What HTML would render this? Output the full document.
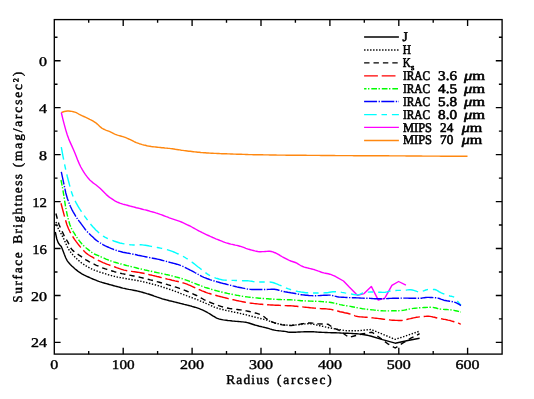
<!DOCTYPE html>
<html><head><meta charset="utf-8"><title>Surface Brightness Profile</title>
<style>
html,body{margin:0;padding:0;background:#fff;}
body{width:534px;height:399px;overflow:hidden;position:relative;font-family:"Liberation Serif",serif;}
</style></head><body>
<svg width="534" height="399" viewBox="0 0 534 399" style="position:absolute;left:0;top:0;will-change:transform">
<g fill="none" stroke-linejoin="round" stroke-linecap="butt">
<path d="M61.3,112.6 L62.8,112.0 L64.3,111.5 L65.8,111.2 L67.3,111.0 L68.8,111.0 L70.3,111.2 L71.8,111.4 L73.3,111.7 L74.8,112.1 L76.3,112.7 L77.8,113.5 L79.3,114.4 L80.8,115.1 L82.3,115.8 L83.8,116.5 L85.3,117.2 L86.8,117.9 L88.3,118.6 L89.8,119.4 L91.3,120.1 L92.8,120.9 L94.3,121.8 L95.8,122.8 L97.3,124.1 L98.8,125.5 L100.3,126.9 L101.8,128.1 L103.3,129.0 L104.8,129.7 L106.3,130.3 L107.8,130.8 L109.3,131.4 L110.8,132.1 L112.3,132.8 L113.8,133.6 L115.3,134.3 L116.8,134.9 L118.3,135.4 L119.8,135.8 L121.3,136.2 L122.8,136.6 L124.3,137.1 L125.8,137.7 L127.3,138.3 L128.8,139.0 L130.3,139.6 L131.8,140.4 L133.3,141.2 L134.8,142.0 L136.3,142.7 L137.8,143.2 L139.3,143.7 L140.8,144.1 L142.3,144.6 L143.8,145.0 L145.3,145.3 L146.8,145.7 L148.3,146.0 L149.8,146.2 L151.3,146.5 L152.8,146.7 L154.3,146.9 L155.8,147.0 L157.3,147.2 L158.8,147.4 L160.3,147.5 L161.8,147.7 L163.3,147.8 L164.8,148.0 L166.3,148.1 L167.8,148.3 L169.3,148.4 L170.8,148.6 L172.3,148.8 L173.8,149.0 L175.3,149.3 L176.8,149.5 L178.3,149.7 L179.8,149.9 L181.3,150.2 L182.8,150.4 L184.3,150.6 L185.8,150.8 L187.3,151.0 L188.8,151.2 L190.3,151.3 L191.8,151.5 L193.3,151.7 L194.8,151.9 L196.3,152.0 L197.8,152.2 L199.3,152.3 L200.8,152.5 L202.3,152.6 L203.8,152.7 L205.3,152.8 L206.8,153.0 L208.3,153.0 L209.8,153.1 L211.3,153.2 L212.8,153.3 L214.3,153.4 L215.8,153.4 L217.3,153.5 L218.8,153.5 L220.3,153.6 L221.8,153.7 L223.3,153.7 L224.8,153.8 L226.3,153.8 L227.8,153.9 L229.3,153.9 L230.8,154.0 L232.3,154.0 L233.8,154.1 L235.3,154.1 L236.8,154.2 L238.3,154.2 L239.8,154.3 L241.3,154.3 L242.8,154.4 L244.3,154.4 L245.8,154.5 L247.3,154.5 L248.8,154.6 L250.3,154.6 L251.8,154.6 L253.3,154.7 L254.8,154.7 L256.3,154.7 L257.8,154.8 L259.3,154.8 L260.8,154.8 L262.3,154.8 L263.8,154.9 L265.3,154.9 L266.8,154.9 L268.3,154.9 L269.8,155.0 L271.3,155.0 L272.8,155.0 L274.3,155.0 L275.8,155.0 L277.3,155.1 L278.8,155.1 L280.3,155.1 L281.8,155.1 L283.3,155.1 L284.8,155.1 L286.3,155.2 L287.8,155.2 L289.3,155.2 L290.8,155.2 L292.3,155.2 L293.8,155.2 L295.3,155.3 L296.8,155.3 L298.3,155.3 L299.8,155.3 L301.3,155.3 L302.8,155.3 L304.3,155.3 L305.8,155.3 L307.3,155.4 L308.8,155.4 L310.3,155.4 L311.8,155.4 L313.3,155.4 L314.8,155.4 L316.3,155.4 L317.8,155.4 L319.3,155.4 L320.8,155.5 L322.3,155.5 L323.8,155.5 L325.3,155.5 L326.8,155.5 L328.3,155.5 L329.8,155.5 L331.3,155.5 L332.8,155.5 L334.3,155.5 L335.8,155.6 L337.3,155.6 L338.8,155.6 L340.3,155.6 L341.8,155.6 L343.3,155.6 L344.8,155.6 L346.3,155.6 L347.8,155.6 L349.3,155.6 L350.8,155.6 L352.3,155.6 L353.8,155.7 L355.3,155.7 L356.8,155.7 L358.3,155.7 L359.8,155.7 L361.3,155.7 L362.8,155.7 L364.3,155.7 L365.8,155.7 L367.3,155.7 L368.8,155.7 L370.3,155.7 L371.8,155.8 L373.3,155.8 L374.8,155.8 L376.3,155.8 L377.8,155.8 L379.3,155.8 L380.8,155.8 L382.3,155.8 L383.8,155.8 L385.3,155.8 L386.8,155.8 L388.3,155.8 L389.8,155.9 L391.3,155.9 L392.8,155.9 L394.3,155.9 L395.8,155.9 L397.3,155.9 L398.8,155.9 L400.3,155.9 L401.8,155.9 L403.3,155.9 L404.8,155.9 L406.3,156.0 L407.8,156.0 L409.3,156.0 L410.8,156.0 L412.3,156.0 L413.8,156.0 L415.3,156.0 L416.8,156.0 L418.3,156.0 L419.8,156.0 L421.3,156.0 L422.8,156.1 L424.3,156.1 L425.8,156.1 L427.3,156.1 L428.8,156.1 L430.3,156.1 L431.8,156.1 L433.3,156.1 L434.8,156.1 L436.3,156.1 L437.8,156.1 L439.3,156.1 L440.8,156.2 L442.3,156.2 L443.8,156.2 L445.3,156.2 L446.8,156.2 L448.3,156.2 L449.8,156.2 L451.3,156.2 L452.8,156.2 L454.3,156.2 L455.8,156.2 L457.3,156.2 L458.8,156.3 L460.3,156.3 L461.8,156.3 L463.3,156.3 L464.8,156.3 L466.3,156.3 L467.5,156.3" stroke="#ff8810" stroke-width="1.4"/>
<path d="M61.3,112.5 L62.8,118.8 L64.3,124.6 L65.8,130.1 L67.3,135.0 L68.8,139.1 L70.3,142.6 L71.8,145.9 L73.3,149.2 L74.8,152.8 L76.3,156.6 L77.8,160.4 L79.3,163.9 L80.8,167.0 L82.3,169.7 L83.8,172.1 L85.3,174.4 L86.8,176.4 L88.3,178.3 L89.8,179.9 L91.3,181.3 L92.8,182.6 L94.3,183.7 L95.8,184.8 L97.3,186.0 L98.8,187.2 L100.3,188.5 L101.8,189.9 L103.3,191.5 L104.8,193.1 L106.3,194.6 L107.8,195.9 L109.3,197.1 L110.8,198.2 L112.3,199.2 L113.8,200.2 L115.3,201.1 L116.8,201.9 L118.3,202.5 L119.8,203.1 L121.3,203.6 L122.8,204.1 L124.3,204.5 L125.8,204.9 L127.3,205.3 L128.8,205.7 L130.3,206.1 L131.8,206.5 L133.3,206.9 L134.8,207.3 L136.3,207.7 L137.8,208.0 L139.3,208.4 L140.8,208.8 L142.3,209.2 L143.8,209.6 L145.3,209.9 L146.8,210.3 L148.3,210.7 L149.8,211.2 L151.3,211.6 L152.8,212.0 L154.3,212.4 L155.8,212.9 L157.3,213.3 L158.8,213.8 L160.3,214.4 L161.8,214.9 L163.3,215.5 L164.8,216.1 L166.3,216.7 L167.8,217.2 L169.3,217.8 L170.8,218.3 L172.3,218.8 L173.8,219.3 L175.3,219.8 L176.8,220.3 L178.3,220.8 L179.8,221.4 L181.3,222.0 L182.8,222.7 L184.3,223.4 L185.8,224.1 L187.3,224.8 L188.8,225.5 L190.3,226.2 L191.8,227.0 L193.3,227.8 L194.8,228.7 L196.3,229.5 L197.8,230.3 L199.3,231.2 L200.8,231.9 L202.3,232.7 L203.8,233.4 L205.3,234.1 L206.8,234.8 L208.3,235.5 L209.8,236.2 L211.3,236.8 L212.8,237.5 L214.3,238.1 L215.8,238.8 L217.3,239.4 L218.8,240.0 L220.3,240.6 L221.8,241.2 L223.3,241.8 L224.8,242.4 L226.3,242.9 L227.8,243.3 L229.3,243.7 L230.8,244.1 L232.3,244.4 L233.8,244.7 L235.3,245.1 L236.8,245.4 L238.3,245.8 L239.8,246.2 L241.3,246.7 L242.8,247.2 L244.3,247.7 L245.8,248.3 L247.3,248.8 L248.8,249.3 L250.3,249.7 L251.8,250.1 L253.3,250.5 L254.8,250.9 L256.3,251.2 L257.8,251.5 L259.3,251.7 L260.8,251.7 L262.3,251.6 L263.8,251.6 L265.3,251.5 L266.8,251.4 L268.3,251.3 L269.8,251.3 L271.3,251.5 L272.8,251.9 L274.3,252.5 L275.8,253.0 L277.3,253.8 L278.8,254.6 L280.3,255.6 L281.8,256.5 L283.3,257.3 L284.8,258.1 L286.3,258.9 L287.8,259.7 L289.3,260.4 L290.8,261.0 L292.3,261.5 L293.8,262.0 L295.3,262.5 L296.8,263.2 L298.3,264.1 L299.8,265.0 L301.3,265.8 L302.8,266.5 L304.3,267.1 L305.8,267.5 L307.3,267.9 L308.8,268.3 L310.3,268.6 L311.8,269.0 L313.3,269.4 L314.8,269.8 L316.3,270.3 L317.8,270.9 L319.3,271.4 L320.8,272.0 L322.3,272.5 L323.8,272.9 L325.3,273.2 L326.8,273.5 L328.3,273.8 L329.8,274.2 L331.3,274.7 L332.8,275.3 L334.3,275.9 L335.8,276.7 L337.0,277.3 L343.5,281.0 L349.0,286.8 L357.6,295.4 L364.1,293.6 L371.3,286.4 L378.3,300.1 L384.8,298.2 L391.9,285.3 L398.6,281.5 L405.9,285.2" stroke="#ff00ff" stroke-width="1.4"/>
<path d="M61.3,147.2 L62.8,155.3 L64.3,162.9 L65.8,170.1 L67.3,176.5 L68.8,182.3 L70.3,187.9 L71.8,193.1 L73.3,197.0 L74.8,200.3 L76.3,203.2 L77.8,205.8 L79.3,208.4 L80.8,210.7 L82.3,212.9 L83.8,215.0 L85.3,217.1 L86.8,219.1 L88.3,221.1 L89.8,223.1 L91.3,225.0 L92.8,226.7 L94.3,228.3 L95.8,229.9 L97.3,231.3 L98.8,232.7 L100.3,234.0 L101.8,235.2 L103.3,236.2 L104.8,237.1 L106.3,237.8 L107.8,238.6 L109.3,239.2 L110.8,239.8 L112.3,240.4 L113.8,241.0 L115.3,241.5 L116.8,242.0 L118.3,242.5 L119.8,243.0 L121.3,243.3 L122.8,243.6 L124.3,243.9 L125.8,244.2 L127.3,244.4 L128.8,244.6 L130.3,244.8 L131.8,244.9 L133.3,245.0 L134.8,245.0 L136.3,244.9 L137.8,244.9 L139.3,244.8 L140.8,244.8 L142.3,244.9 L143.8,245.1 L145.3,245.3 L146.8,245.5 L148.3,245.8 L149.8,246.1 L151.3,246.4 L152.8,246.7 L154.3,246.9 L155.8,247.2 L157.3,247.5 L158.8,247.8 L160.3,248.1 L161.8,248.4 L163.3,248.8 L164.8,249.1 L166.3,249.5 L167.8,249.9 L169.3,250.4 L170.8,250.9 L172.3,251.4 L173.8,252.0 L175.3,252.6 L176.8,253.3 L178.3,254.0 L179.8,254.7 L181.3,255.4 L182.8,256.2 L184.3,257.0 L185.8,258.0 L187.3,258.9 L188.8,259.9 L190.3,261.0 L191.8,262.0 L193.3,263.1 L194.8,264.3 L196.3,265.5 L197.8,266.7 L199.3,267.8 L200.8,269.0 L202.3,270.2 L203.8,271.3 L205.3,272.5 L206.8,273.6 L208.3,274.6 L209.8,275.5 L211.3,276.3 L212.8,277.0 L214.3,277.6 L215.8,278.1 L217.3,278.5 L218.8,279.0 L220.3,279.4 L221.8,279.8 L223.3,280.0 L224.8,280.1 L226.3,280.2 L227.8,280.3 L229.3,280.3 L230.8,280.4 L232.3,280.4 L233.8,280.4 L235.3,280.5 L236.8,280.5 L238.3,280.6 L239.8,280.6 L241.3,280.6 L242.8,280.7 L244.3,280.7 L245.8,280.8 L247.3,280.8 L248.8,280.9 L250.3,281.1 L251.8,281.3 L253.3,281.6 L254.8,281.8 L256.3,281.9 L257.8,282.0 L259.3,282.0 L260.8,282.0 L262.3,282.0 L263.8,282.0 L265.3,282.0 L266.8,282.0 L268.3,282.0 L269.8,282.0 L271.3,282.2 L272.8,282.5 L274.3,283.0 L275.8,283.6 L277.3,284.2 L278.8,284.8 L280.3,285.3 L281.8,286.0 L283.3,286.7 L284.8,287.5 L286.3,288.1 L287.8,288.7 L289.3,289.2 L290.8,289.7 L292.3,290.1 L293.8,290.6 L295.3,291.0 L296.8,291.3 L298.3,291.6 L299.8,291.8 L301.3,292.1 L302.8,292.3 L304.3,292.5 L305.8,292.7 L307.3,292.8 L308.8,292.9 L310.3,293.0 L311.8,293.0 L313.3,293.0 L314.8,293.0 L316.3,293.0 L317.8,293.0 L319.3,293.0 L320.8,292.9 L322.3,292.9 L323.8,292.9 L325.3,292.8 L326.8,292.7 L328.3,292.5 L329.8,292.2 L331.3,292.0 L332.8,291.8 L334.3,291.7 L335.8,291.7 L337.3,291.8 L338.8,291.9 L340.3,292.1 L341.8,292.4 L343.3,292.6 L344.8,292.9 L346.3,293.1 L347.8,293.3 L349.3,293.6 L350.8,293.9 L352.3,294.2 L353.8,294.5 L355.3,294.7 L356.8,294.9 L358.3,294.8 L359.8,294.4 L361.3,293.6 L362.8,292.9 L364.3,292.4 L365.8,292.3 L367.3,292.2 L368.8,292.1 L370.3,292.0 L371.8,292.0 L373.3,292.0 L374.8,292.0 L376.3,292.1 L377.8,292.2 L379.3,292.3 L380.8,292.3 L382.3,292.4 L383.8,292.4 L385.3,292.2 L386.8,291.9 L388.3,291.5 L389.8,291.1 L391.3,290.7 L392.8,290.6 L394.3,290.5 L395.8,290.5 L397.3,290.4 L398.8,290.4 L400.3,290.4 L401.8,290.3 L403.3,290.3 L404.8,290.2 L406.3,290.1 L407.8,289.9 L409.3,289.8 L410.8,289.8 L412.3,290.0 L413.8,290.4 L415.3,290.9 L416.8,291.4 L418.3,291.8 L419.8,291.9 L421.3,291.7 L422.8,291.2 L424.3,290.6 L425.8,290.0 L427.3,289.6 L428.8,289.5 L430.3,289.5 L431.8,289.5 L433.3,289.5 L434.8,289.5 L436.3,290.0 L437.8,290.9 L439.3,291.9 L440.8,292.7 L442.3,293.3 L443.8,293.9 L445.3,294.5 L446.8,295.0 L448.3,295.5 L449.8,296.0 L451.3,296.3 L452.8,296.6 L454.3,297.2 L455.8,299.0 L457.3,301.0 L458.8,302.8 L460.3,304.6 L460.9,305.3" stroke="#00ffff" stroke-width="1.4" stroke-dasharray="12.6 4.8 5.5 4.9"/>
<path d="M61.3,171.8 L62.8,178.9 L64.3,185.9 L65.8,193.0 L67.3,198.2 L68.8,202.4 L70.3,206.2 L71.8,209.3 L73.3,212.1 L74.8,214.7 L76.3,217.2 L77.8,219.4 L79.3,221.4 L80.8,223.3 L82.3,225.3 L83.8,227.4 L85.3,229.5 L86.8,231.3 L88.3,232.8 L89.8,234.2 L91.3,235.7 L92.8,237.1 L94.3,238.6 L95.8,239.9 L97.3,241.0 L98.8,242.1 L100.3,243.0 L101.8,243.9 L103.3,244.8 L104.8,245.6 L106.3,246.3 L107.8,247.0 L109.3,247.7 L110.8,248.3 L112.3,248.9 L113.8,249.5 L115.3,250.0 L116.8,250.5 L118.3,251.0 L119.8,251.4 L121.3,251.8 L122.8,252.2 L124.3,252.5 L125.8,252.8 L127.3,253.1 L128.8,253.3 L130.3,253.6 L131.8,253.9 L133.3,254.2 L134.8,254.5 L136.3,254.8 L137.8,255.2 L139.3,255.5 L140.8,255.8 L142.3,256.1 L143.8,256.4 L145.3,256.7 L146.8,257.0 L148.3,257.3 L149.8,257.6 L151.3,257.9 L152.8,258.2 L154.3,258.5 L155.8,258.8 L157.3,259.1 L158.8,259.4 L160.3,259.8 L161.8,260.2 L163.3,260.6 L164.8,261.0 L166.3,261.4 L167.8,261.8 L169.3,262.2 L170.8,262.6 L172.3,263.0 L173.8,263.4 L175.3,263.8 L176.8,264.2 L178.3,264.7 L179.8,265.2 L181.3,265.8 L182.8,266.4 L184.3,267.1 L185.8,267.8 L187.3,268.6 L188.8,269.3 L190.3,270.1 L191.8,270.8 L193.3,271.6 L194.8,272.5 L196.3,273.3 L197.8,274.2 L199.3,275.0 L200.8,275.8 L202.3,276.6 L203.8,277.3 L205.3,277.9 L206.8,278.5 L208.3,279.0 L209.8,279.6 L211.3,280.1 L212.8,280.6 L214.3,281.0 L215.8,281.5 L217.3,281.9 L218.8,282.3 L220.3,282.7 L221.8,283.1 L223.3,283.5 L224.8,283.8 L226.3,284.2 L227.8,284.6 L229.3,285.0 L230.8,285.4 L232.3,285.8 L233.8,286.1 L235.3,286.5 L236.8,286.9 L238.3,287.2 L239.8,287.5 L241.3,287.8 L242.8,288.1 L244.3,288.4 L245.8,288.7 L247.3,289.0 L248.8,289.2 L250.3,289.4 L251.8,289.5 L253.3,289.5 L254.8,289.5 L256.3,289.5 L257.8,289.5 L259.3,289.5 L260.8,289.5 L262.3,289.5 L263.8,289.5 L265.3,289.5 L266.8,289.5 L268.3,289.4 L269.8,289.4 L271.3,289.3 L272.8,289.3 L274.3,289.3 L275.8,289.5 L277.3,289.8 L278.8,290.2 L280.3,290.6 L281.8,291.1 L283.3,291.4 L284.8,291.8 L286.3,292.0 L287.8,292.3 L289.3,292.5 L290.8,292.8 L292.3,293.0 L293.8,293.2 L295.3,293.5 L296.8,293.8 L298.3,294.1 L299.8,294.5 L301.3,294.7 L302.8,294.9 L304.3,295.0 L305.8,295.2 L307.3,295.3 L308.8,295.5 L310.3,295.6 L311.8,295.6 L313.3,295.7 L314.8,295.7 L316.3,295.7 L317.8,295.6 L319.3,295.6 L320.8,295.5 L322.3,295.4 L323.8,295.3 L325.3,295.2 L326.8,295.2 L328.3,295.1 L329.8,295.1 L331.3,295.3 L332.8,295.6 L334.3,296.0 L335.8,296.4 L337.3,296.8 L338.8,297.0 L340.3,297.1 L341.8,297.2 L343.3,297.3 L344.8,297.4 L346.3,297.5 L347.8,297.5 L349.3,297.6 L350.8,297.6 L352.3,297.7 L353.8,297.7 L355.3,297.8 L356.8,297.9 L358.3,297.9 L359.8,298.0 L361.3,298.1 L362.8,298.1 L364.3,298.2 L365.8,298.2 L367.3,298.3 L368.8,298.3 L370.3,298.4 L371.8,298.5 L373.3,298.6 L374.8,298.7 L376.3,298.7 L377.8,298.8 L379.3,298.8 L380.8,298.8 L382.3,298.7 L383.8,298.7 L385.3,298.6 L386.8,298.6 L388.3,298.5 L389.8,298.4 L391.3,298.4 L392.8,298.3 L394.3,298.3 L395.8,298.2 L397.3,298.2 L398.8,298.2 L400.3,298.1 L401.8,298.1 L403.3,298.1 L404.8,298.1 L406.3,298.1 L407.8,298.1 L409.3,298.2 L410.8,298.2 L412.3,298.2 L413.8,298.2 L415.3,298.3 L416.8,298.3 L418.3,298.3 L419.8,298.3 L421.3,298.2 L422.8,297.9 L424.3,297.7 L425.8,297.5 L427.3,297.4 L428.8,297.4 L430.3,297.5 L431.8,297.5 L433.3,297.6 L434.8,297.7 L436.3,297.8 L437.8,298.1 L439.3,298.5 L440.8,299.1 L442.3,299.6 L443.8,300.2 L445.3,300.5 L446.8,300.8 L448.3,301.0 L449.8,301.2 L451.3,301.4 L452.8,301.7 L454.3,302.1 L455.8,302.6 L457.3,303.3 L458.8,304.2 L460.3,305.2 L460.9,305.6" stroke="#0000ff" stroke-width="1.4" stroke-dasharray="13 1.5 1.3 1.4"/>
<path d="M61.0,180.0 L62.5,187.5 L64.0,196.7 L65.5,206.3 L67.0,213.8 L68.5,220.1 L70.0,225.0 L71.5,228.5 L73.0,231.3 L74.5,233.7 L76.0,236.1 L77.5,238.3 L79.0,240.4 L80.5,242.3 L82.0,244.0 L83.5,245.5 L85.0,246.9 L86.5,248.2 L88.0,249.4 L89.5,250.6 L91.0,251.8 L92.5,252.9 L94.0,253.8 L95.5,254.5 L97.0,255.1 L98.5,255.7 L100.0,256.4 L101.5,257.1 L103.0,257.7 L104.5,258.4 L106.0,259.1 L107.5,259.7 L109.0,260.3 L110.5,260.8 L112.0,261.3 L113.5,261.8 L115.0,262.3 L116.5,262.7 L118.0,263.2 L119.5,263.6 L121.0,264.0 L122.5,264.5 L124.0,264.8 L125.5,265.2 L127.0,265.6 L128.5,265.9 L130.0,266.3 L131.5,266.7 L133.0,267.1 L134.5,267.4 L136.0,267.8 L137.5,268.2 L139.0,268.6 L140.5,268.9 L142.0,269.3 L143.5,269.6 L145.0,270.0 L146.5,270.3 L148.0,270.6 L149.5,271.0 L151.0,271.3 L152.5,271.6 L154.0,272.0 L155.5,272.3 L157.0,272.6 L158.5,272.9 L160.0,273.2 L161.5,273.5 L163.0,273.8 L164.5,274.1 L166.0,274.5 L167.5,274.8 L169.0,275.1 L170.5,275.5 L172.0,275.9 L173.5,276.3 L175.0,276.7 L176.5,277.1 L178.0,277.5 L179.5,277.9 L181.0,278.4 L182.5,278.8 L184.0,279.3 L185.5,279.8 L187.0,280.3 L188.5,280.9 L190.0,281.5 L191.5,282.1 L193.0,282.7 L194.5,283.3 L196.0,283.9 L197.5,284.5 L199.0,285.0 L200.5,285.6 L202.0,286.2 L203.5,286.7 L205.0,287.3 L206.5,287.8 L208.0,288.2 L209.5,288.7 L211.0,289.2 L212.5,289.6 L214.0,290.1 L215.5,290.5 L217.0,290.9 L218.5,291.3 L220.0,291.6 L221.5,292.0 L223.0,292.4 L224.5,292.7 L226.0,293.0 L227.5,293.4 L229.0,293.7 L230.5,294.0 L232.0,294.3 L233.5,294.6 L235.0,294.9 L236.5,295.2 L238.0,295.4 L239.5,295.7 L241.0,296.0 L242.5,296.3 L244.0,296.5 L245.5,296.7 L247.0,296.9 L248.5,297.1 L250.0,297.3 L251.5,297.5 L253.0,297.6 L254.5,297.8 L256.0,297.9 L257.5,298.0 L259.0,298.2 L260.5,298.3 L262.0,298.4 L263.5,298.5 L265.0,298.6 L266.5,298.7 L268.0,298.8 L269.5,299.0 L271.0,299.0 L272.5,299.1 L274.0,299.2 L275.5,299.3 L277.0,299.4 L278.5,299.5 L280.0,299.5 L281.5,299.6 L283.0,299.6 L284.5,299.6 L286.0,299.7 L287.5,299.7 L289.0,299.8 L290.5,299.8 L292.0,299.9 L293.5,300.0 L295.0,300.1 L296.5,300.3 L298.0,300.4 L299.5,300.5 L301.0,300.7 L302.5,300.8 L304.0,300.8 L305.5,300.9 L307.0,301.0 L308.5,301.0 L310.0,301.1 L311.5,301.1 L313.0,301.2 L314.5,301.2 L316.0,301.3 L317.5,301.4 L319.0,301.4 L320.5,301.5 L322.0,301.6 L323.5,301.7 L325.0,301.9 L326.5,302.0 L328.0,302.1 L329.5,302.3 L331.0,302.5 L332.5,302.8 L334.0,303.1 L335.5,303.4 L337.0,303.8 L338.5,304.2 L340.0,304.6 L341.5,304.9 L343.0,305.2 L344.5,305.4 L346.0,305.7 L347.5,305.9 L349.0,306.1 L350.5,306.4 L352.0,306.7 L353.5,307.0 L355.0,307.3 L356.5,307.6 L358.0,307.9 L359.5,308.2 L361.0,308.4 L362.5,308.7 L364.0,308.9 L365.5,309.1 L367.0,309.3 L368.5,309.5 L370.0,309.6 L371.5,309.8 L373.0,309.9 L374.5,310.1 L376.0,310.2 L377.5,310.4 L379.0,310.5 L380.5,310.7 L382.0,310.8 L383.5,310.9 L385.0,310.9 L386.5,310.9 L388.0,310.9 L389.5,310.9 L391.0,310.9 L392.5,310.8 L394.0,310.8 L395.5,310.8 L397.0,310.7 L398.5,310.7 L400.0,310.6 L401.5,310.5 L403.0,310.4 L404.5,310.1 L406.0,309.8 L407.5,309.4 L409.0,309.1 L410.5,308.8 L412.0,308.6 L413.5,308.4 L415.0,308.2 L416.5,308.1 L418.0,307.9 L419.5,307.8 L421.0,307.7 L422.5,307.6 L424.0,307.5 L425.5,307.5 L427.0,307.4 L428.5,307.3 L430.0,307.3 L431.5,307.3 L433.0,307.4 L434.5,307.7 L436.0,308.0 L437.5,308.5 L439.0,308.8 L440.5,309.1 L442.0,309.2 L443.5,309.4 L445.0,309.5 L446.5,309.5 L448.0,309.6 L449.5,309.8 L451.0,309.9 L452.5,310.1 L454.0,310.4 L455.5,310.7 L457.0,311.0 L458.5,311.4 L460.0,311.8 L460.9,312.1" stroke="#00ff00" stroke-width="1.4" stroke-dasharray="5.7 1.5 1.4 1.9"/>
<path d="M61.0,203.3 L62.5,209.0 L64.0,214.6 L65.5,220.1 L67.0,225.0 L68.5,228.7 L70.0,231.8 L71.5,234.5 L73.0,237.0 L74.5,239.3 L76.0,241.4 L77.5,243.4 L79.0,245.3 L80.5,247.1 L82.0,248.9 L83.5,250.5 L85.0,252.0 L86.5,253.4 L88.0,254.5 L89.5,255.5 L91.0,256.4 L92.5,257.2 L94.0,258.1 L95.5,258.9 L97.0,259.7 L98.5,260.5 L100.0,261.2 L101.5,261.9 L103.0,262.6 L104.5,263.2 L106.0,263.8 L107.5,264.4 L109.0,264.9 L110.5,265.5 L112.0,266.0 L113.5,266.5 L115.0,267.0 L116.5,267.6 L118.0,268.1 L119.5,268.7 L121.0,269.2 L122.5,269.6 L124.0,270.1 L125.5,270.4 L127.0,270.7 L128.5,270.9 L130.0,271.2 L131.5,271.4 L133.0,271.6 L134.5,271.8 L136.0,272.0 L137.5,272.2 L139.0,272.4 L140.5,272.7 L142.0,273.0 L143.5,273.3 L145.0,273.6 L146.5,274.0 L148.0,274.3 L149.5,274.7 L151.0,275.0 L152.5,275.4 L154.0,275.7 L155.5,276.1 L157.0,276.5 L158.5,276.8 L160.0,277.2 L161.5,277.6 L163.0,277.9 L164.5,278.3 L166.0,278.7 L167.5,279.1 L169.0,279.4 L170.5,279.8 L172.0,280.2 L173.5,280.5 L175.0,280.9 L176.5,281.2 L178.0,281.5 L179.5,281.9 L181.0,282.3 L182.5,282.7 L184.0,283.1 L185.5,283.6 L187.0,284.1 L188.5,284.8 L190.0,285.4 L191.5,286.1 L193.0,286.8 L194.5,287.5 L196.0,288.1 L197.5,288.8 L199.0,289.5 L200.5,290.1 L202.0,290.8 L203.5,291.4 L205.0,292.0 L206.5,292.6 L208.0,293.1 L209.5,293.5 L211.0,294.0 L212.5,294.4 L214.0,294.8 L215.5,295.3 L217.0,295.7 L218.5,296.1 L220.0,296.5 L221.5,296.9 L223.0,297.3 L224.5,297.6 L226.0,298.0 L227.5,298.4 L229.0,298.8 L230.5,299.1 L232.0,299.5 L233.5,299.8 L235.0,300.1 L236.5,300.5 L238.0,300.8 L239.5,301.1 L241.0,301.4 L242.5,301.7 L244.0,302.0 L245.5,302.3 L247.0,302.5 L248.5,302.7 L250.0,303.0 L251.5,303.2 L253.0,303.4 L254.5,303.6 L256.0,303.7 L257.5,303.9 L259.0,304.1 L260.5,304.2 L262.0,304.3 L263.5,304.5 L265.0,304.6 L266.5,304.7 L268.0,304.8 L269.5,304.9 L271.0,305.0 L272.5,305.0 L274.0,305.1 L275.5,305.2 L277.0,305.3 L278.5,305.3 L280.0,305.4 L281.5,305.5 L283.0,305.5 L284.5,305.6 L286.0,305.6 L287.5,305.7 L289.0,305.8 L290.5,305.8 L292.0,305.9 L293.5,306.0 L295.0,306.2 L296.5,306.3 L298.0,306.5 L299.5,306.6 L301.0,306.8 L302.5,306.9 L304.0,307.1 L305.5,307.2 L307.0,307.4 L308.5,307.5 L310.0,307.7 L311.5,307.9 L313.0,308.0 L314.5,308.1 L316.0,308.3 L317.5,308.4 L319.0,308.5 L320.5,308.6 L322.0,308.7 L323.5,308.7 L325.0,308.8 L326.5,308.9 L328.0,309.1 L329.5,309.2 L331.0,309.4 L332.5,309.7 L334.0,310.1 L335.5,310.5 L337.0,310.9 L338.5,311.3 L340.0,311.7 L341.5,312.0 L343.0,312.3 L344.5,312.7 L346.0,313.0 L347.5,313.3 L349.0,313.7 L350.5,314.1 L352.0,314.6 L353.5,315.2 L355.0,315.8 L356.5,316.3 L358.0,316.6 L359.5,316.8 L361.0,316.9 L362.5,317.0 L364.0,317.1 L365.5,317.2 L367.0,317.3 L368.5,317.4 L370.0,317.5 L371.5,317.7 L373.0,317.9 L374.5,318.1 L376.0,318.2 L377.5,318.4 L379.0,318.6 L380.5,318.8 L382.0,319.0 L383.5,319.2 L385.0,319.4 L386.5,319.6 L388.0,319.7 L389.5,319.9 L391.0,320.1 L392.5,320.2 L394.0,320.3 L395.5,320.4 L397.0,320.4 L398.5,320.5 L400.0,320.5 L401.5,320.5 L403.0,320.4 L404.5,320.2 L406.0,319.7 L407.5,319.3 L409.0,318.9 L410.5,318.6 L412.0,318.2 L413.5,317.9 L415.0,317.6 L416.5,317.3 L418.0,317.1 L419.5,316.9 L421.0,316.8 L422.5,316.6 L424.0,316.5 L425.5,316.4 L427.0,316.3 L428.5,316.3 L430.0,316.4 L431.5,316.6 L433.0,317.0 L434.5,317.3 L436.0,317.7 L437.5,318.1 L439.0,318.4 L440.5,318.6 L442.0,318.9 L443.5,319.2 L445.0,319.4 L446.5,319.7 L448.0,320.1 L449.5,320.4 L451.0,320.8 L452.5,321.3 L454.0,321.7 L455.5,322.2 L457.0,322.7 L458.5,323.2 L460.0,323.8 L460.9,324.1" stroke="#ff0000" stroke-width="1.4" stroke-dasharray="13.8 3.8"/>
<path d="M55.9,213.5 L57.4,219.1 L58.9,224.2 L60.4,227.8 L61.9,230.8 L63.4,234.1 L64.9,237.4 L66.4,239.7 L67.9,242.1 L69.4,245.3 L70.9,248.3 L72.4,250.1 L73.9,251.4 L75.4,252.6 L76.9,253.6 L78.4,254.6 L79.9,255.7 L81.4,256.7 L82.9,257.8 L84.4,258.8 L85.9,259.8 L87.4,260.7 L88.9,261.6 L90.4,262.4 L91.9,263.2 L93.4,263.9 L94.9,264.6 L96.4,265.3 L97.9,265.9 L99.4,266.6 L100.9,267.2 L102.4,267.8 L103.9,268.3 L105.4,268.9 L106.9,269.4 L108.4,269.9 L109.9,270.4 L111.4,270.8 L112.9,271.2 L114.4,271.7 L115.9,272.1 L117.4,272.5 L118.9,272.8 L120.4,273.2 L121.9,273.6 L123.4,273.9 L124.9,274.2 L126.4,274.5 L127.9,274.8 L129.4,275.1 L130.9,275.4 L132.4,275.7 L133.9,276.0 L135.4,276.3 L136.9,276.6 L138.4,276.9 L139.9,277.3 L141.4,277.6 L142.9,278.0 L144.4,278.3 L145.9,278.7 L147.4,279.1 L148.9,279.5 L150.4,279.9 L151.9,280.2 L153.4,280.6 L154.9,281.0 L156.4,281.5 L157.9,281.9 L159.4,282.3 L160.9,282.7 L162.4,283.1 L163.9,283.5 L165.4,284.0 L166.9,284.4 L168.4,284.9 L169.9,285.3 L171.4,285.8 L172.9,286.3 L174.4,286.7 L175.9,287.2 L177.4,287.7 L178.9,288.2 L180.4,288.7 L181.9,289.3 L183.4,289.8 L184.9,290.4 L186.4,291.0 L187.9,291.6 L189.4,292.2 L190.9,292.9 L192.4,293.6 L193.9,294.3 L195.4,295.0 L196.9,295.7 L198.4,296.5 L199.9,297.4 L201.4,298.2 L202.9,299.0 L204.4,299.8 L205.9,300.5 L207.4,301.2 L208.9,301.8 L210.4,302.5 L211.9,303.1 L213.4,303.7 L214.9,304.3 L216.4,304.8 L217.9,305.3 L219.4,305.8 L220.9,306.3 L222.4,306.8 L223.9,307.2 L225.4,307.6 L226.9,308.0 L228.4,308.3 L229.9,308.6 L231.4,308.8 L232.9,309.0 L234.4,309.2 L235.9,309.3 L237.4,309.5 L238.9,309.7 L240.4,309.9 L241.9,310.1 L243.4,310.3 L244.9,310.6 L246.4,310.9 L247.9,311.2 L249.4,311.5 L250.9,311.9 L252.4,312.2 L253.9,312.6 L255.4,313.0 L256.9,313.4 L258.4,313.9 L259.9,314.4 L261.4,315.1 L262.9,315.9 L264.4,317.0 L265.9,318.2 L267.4,319.3 L268.9,320.3 L270.4,321.1 L271.9,321.8 L273.4,322.4 L274.9,323.0 L276.4,323.5 L277.9,323.9 L279.4,324.3 L280.9,324.6 L282.4,324.9 L283.9,325.1 L285.4,325.3 L286.9,325.5 L288.4,325.6 L289.9,325.6 L291.4,325.5 L292.9,325.3 L294.4,325.1 L295.9,324.8 L297.4,324.6 L298.9,324.4 L300.4,324.1 L301.9,323.8 L303.4,323.6 L304.9,323.3 L306.4,323.1 L307.9,323.0 L309.4,323.0 L310.9,323.0 L312.4,323.1 L313.9,323.2 L315.4,323.4 L316.9,323.6 L317.5,323.7 L327.9,324.2 L333.9,328.2 L339.9,330.5 L344.4,334.2 L349.0,337.4 L354.0,336.0 L363.0,333.7 L372.0,332.2 L379.5,337.5 L388.4,344.2 L395.2,348.0 L403.4,342.7 L410.9,338.2 L419.6,333.7" stroke="#000000" stroke-width="1.4" stroke-dasharray="5.4 4"/>
<path d="M56.0,222.0 L57.5,227.0 L59.0,230.0 L60.5,232.5 L62.0,235.4 L63.5,238.4 L65.0,241.6 L66.5,245.0 L68.0,248.2 L69.5,250.6 L71.0,252.6 L72.5,254.4 L74.0,256.0 L75.5,257.5 L77.0,259.0 L78.5,260.4 L80.0,261.7 L81.5,262.9 L83.0,263.9 L84.5,264.9 L86.0,265.9 L87.5,266.8 L89.0,267.6 L90.5,268.4 L92.0,269.1 L93.5,269.8 L95.0,270.4 L96.5,270.9 L98.0,271.5 L99.5,272.0 L101.0,272.4 L102.5,272.9 L104.0,273.4 L105.5,273.8 L107.0,274.3 L108.5,274.8 L110.0,275.2 L111.5,275.6 L113.0,276.0 L114.5,276.4 L116.0,276.7 L117.5,277.1 L119.0,277.4 L120.5,277.6 L122.0,277.9 L123.5,278.1 L125.0,278.4 L126.5,278.7 L128.0,278.9 L129.5,279.2 L131.0,279.4 L132.5,279.7 L134.0,280.0 L135.5,280.2 L137.0,280.5 L138.5,280.8 L140.0,281.1 L141.5,281.4 L143.0,281.7 L144.5,282.1 L146.0,282.4 L147.5,282.8 L149.0,283.2 L150.5,283.6 L152.0,284.0 L153.5,284.4 L155.0,284.8 L156.5,285.2 L158.0,285.6 L159.5,286.1 L161.0,286.5 L162.5,287.0 L164.0,287.5 L165.5,288.0 L167.0,288.5 L168.5,289.0 L170.0,289.5 L171.5,290.0 L173.0,290.5 L174.5,291.1 L176.0,291.7 L177.5,292.2 L179.0,292.8 L180.5,293.4 L182.0,294.0 L183.5,294.6 L185.0,295.1 L186.5,295.7 L188.0,296.2 L189.5,296.8 L191.0,297.3 L192.5,297.9 L194.0,298.4 L195.5,299.0 L197.0,299.6 L198.5,300.2 L200.0,300.8 L201.5,301.5 L203.0,302.1 L204.5,302.7 L206.0,303.4 L207.5,304.0 L209.0,304.7 L210.5,305.3 L212.0,306.0 L213.5,306.7 L215.0,307.3 L216.5,307.8 L218.0,308.3 L219.5,308.8 L221.0,309.2 L222.5,309.5 L224.0,309.9 L225.5,310.3 L227.0,310.6 L228.5,310.9 L230.0,311.3 L231.5,311.6 L233.0,311.9 L234.5,312.2 L236.0,312.5 L237.5,312.8 L239.0,313.1 L240.5,313.5 L242.0,313.8 L243.5,314.2 L245.0,314.5 L246.5,314.9 L248.0,315.3 L249.5,315.7 L251.0,316.1 L252.5,316.5 L254.0,316.9 L255.5,317.3 L257.0,317.6 L258.5,318.0 L260.0,318.4 L261.5,318.7 L263.0,319.1 L264.5,319.5 L266.0,319.9 L267.5,320.3 L269.0,320.9 L270.5,321.4 L272.0,322.0 L273.5,322.5 L275.0,323.0 L276.5,323.4 L278.0,323.7 L279.5,324.0 L281.0,324.3 L282.5,324.5 L284.0,324.7 L285.5,324.9 L287.0,325.1 L288.5,325.2 L290.0,325.2 L291.5,325.2 L293.0,325.1 L294.5,325.0 L296.0,324.9 L297.5,324.8 L299.0,324.7 L300.5,324.6 L302.0,324.3 L303.5,324.1 L305.0,323.9 L306.5,323.8 L308.0,323.7 L309.5,323.7 L311.0,323.9 L312.5,324.1 L314.0,324.4 L315.5,324.8 L317.0,325.1 L318.5,325.4 L320.0,325.7 L321.5,326.1 L323.0,326.4 L324.5,326.8 L326.0,327.1 L327.5,327.4 L329.0,327.7 L330.5,328.0 L332.0,328.3 L333.5,328.6 L335.0,328.9 L336.5,329.2 L338.0,329.4 L339.5,329.6 L341.0,329.9 L342.5,330.1 L344.0,330.4 L345.5,330.6 L347.0,330.7 L348.5,330.8 L350.0,330.8 L351.5,330.8 L353.0,330.8 L354.5,330.8 L356.0,330.7 L357.5,330.7 L359.0,330.6 L360.0,330.5 L371.2,329.5 L382.5,334.2 L395.2,339.4 L407.9,335.2 L419.6,331.2" stroke="#000000" stroke-width="1.4" stroke-dasharray="1.4 1.6"/>
<path d="M55.3,232.0 L56.8,239.0 L58.3,242.9 L59.8,245.0 L61.3,246.6 L62.8,250.3 L64.3,254.3 L65.8,258.0 L67.3,260.8 L68.8,262.8 L70.3,264.4 L71.8,265.9 L73.3,267.3 L74.8,268.7 L76.3,269.9 L77.8,271.1 L79.3,272.2 L80.8,273.2 L82.3,274.1 L83.8,274.9 L85.3,275.6 L86.8,276.3 L88.3,277.0 L89.8,277.7 L91.3,278.3 L92.8,279.0 L94.3,279.6 L95.8,280.2 L97.3,280.8 L98.8,281.4 L100.3,281.9 L101.8,282.3 L103.3,282.8 L104.8,283.2 L106.3,283.6 L107.8,284.0 L109.3,284.5 L110.8,284.9 L112.3,285.3 L113.8,285.7 L115.3,286.1 L116.8,286.5 L118.3,286.9 L119.8,287.3 L121.3,287.7 L122.8,288.1 L124.3,288.4 L125.8,288.8 L127.3,289.1 L128.8,289.4 L130.3,289.6 L131.8,289.9 L133.3,290.2 L134.8,290.5 L136.3,290.8 L137.8,291.1 L139.3,291.5 L140.8,291.9 L142.3,292.3 L143.8,292.7 L145.3,293.1 L146.8,293.6 L148.3,294.0 L149.8,294.5 L151.3,295.0 L152.8,295.5 L154.3,296.1 L155.8,296.6 L157.3,297.2 L158.8,297.7 L160.3,298.2 L161.8,298.7 L163.3,299.1 L164.8,299.5 L166.3,299.9 L167.8,300.3 L169.3,300.7 L170.8,301.0 L172.3,301.4 L173.8,301.8 L175.3,302.1 L176.8,302.5 L178.3,302.9 L179.8,303.3 L181.3,303.6 L182.8,304.0 L184.3,304.4 L185.8,304.7 L187.3,305.1 L188.8,305.5 L190.3,305.9 L191.8,306.3 L193.3,306.8 L194.8,307.2 L196.3,307.7 L197.8,308.2 L199.3,308.7 L200.8,309.3 L202.3,309.9 L203.8,310.6 L205.3,311.3 L206.8,312.1 L208.3,313.0 L209.8,313.8 L211.3,314.8 L212.8,315.8 L214.3,316.7 L215.8,317.6 L217.3,318.4 L218.8,318.9 L220.3,319.3 L221.8,319.6 L223.3,319.9 L224.8,320.1 L226.3,320.3 L227.8,320.5 L229.3,320.6 L230.8,320.8 L232.3,321.0 L233.8,321.1 L235.3,321.3 L236.8,321.4 L238.3,321.5 L239.8,321.6 L241.3,321.8 L242.8,321.9 L244.3,322.1 L245.8,322.3 L247.3,322.6 L248.8,323.0 L250.3,323.5 L251.8,324.0 L253.3,324.5 L254.8,325.0 L256.3,325.4 L257.8,325.8 L259.3,326.2 L260.8,326.5 L262.3,326.9 L263.8,327.2 L265.3,327.6 L266.8,328.0 L268.3,328.4 L269.8,328.9 L271.3,329.3 L272.8,329.8 L274.3,330.1 L275.8,330.4 L277.3,330.6 L278.8,330.8 L280.3,330.9 L281.8,331.1 L283.3,331.2 L284.8,331.4 L286.3,331.6 L287.8,332.0 L289.3,332.2 L290.8,332.3 L292.3,332.3 L293.8,332.2 L295.3,332.2 L296.8,332.1 L298.3,332.0 L299.8,332.0 L301.3,331.9 L302.8,331.9 L304.3,331.8 L305.8,331.8 L307.3,331.7 L308.8,331.7 L310.3,331.7 L311.8,331.7 L313.3,331.8 L314.8,331.9 L316.3,332.0 L317.8,332.1 L319.3,332.2 L320.8,332.3 L322.3,332.4 L323.8,332.4 L325.3,332.5 L326.8,332.5 L328.3,332.6 L329.8,332.6 L331.3,332.7 L332.8,332.7 L334.3,332.8 L335.8,332.8 L337.3,332.9 L338.8,332.9 L340.3,333.0 L341.8,333.1 L343.3,333.1 L344.8,333.2 L346.3,333.3 L347.8,333.3 L349.3,333.4 L350.8,333.4 L352.3,333.5 L353.8,333.6 L355.3,333.7 L356.8,333.8 L358.3,333.9 L359.8,334.1 L361.3,334.3 L362.8,334.5 L364.3,334.7 L365.8,335.0 L367.3,335.3 L368.8,335.6 L370.3,336.0 L370.5,336.0 L382.5,339.7 L395.2,343.2 L407.9,340.5 L419.6,338.2" stroke="#000000" stroke-width="1.4"/>
</g>
<g stroke="#000" stroke-width="1.35" fill="none">
<rect x="54.3" y="19.6" width="447.8" height="334.5"/>
<path d="M88.7,354.15 v-3.2 M88.7,19.6 v3.2 M123.2,354.15 v-6.3 M123.2,19.6 v6.3 M157.6,354.15 v-3.2 M157.6,19.6 v3.2 M192.1,354.15 v-6.3 M192.1,19.6 v6.3 M226.5,354.15 v-3.2 M226.5,19.6 v3.2 M261.0,354.15 v-6.3 M261.0,19.6 v6.3 M295.4,354.15 v-3.2 M295.4,19.6 v3.2 M329.9,354.15 v-6.3 M329.9,19.6 v6.3 M364.3,354.15 v-3.2 M364.3,19.6 v3.2 M398.8,354.15 v-6.3 M398.8,19.6 v6.3 M433.2,354.15 v-3.2 M433.2,19.6 v3.2 M467.6,354.15 v-6.3 M467.6,19.6 v6.3 M54.3,37.2 h3.2 M502.1,37.2 h-3.2 M54.3,60.7 h6.3 M502.1,60.7 h-6.3 M54.3,84.2 h3.2 M502.1,84.2 h-3.2 M54.3,107.6 h6.3 M502.1,107.6 h-6.3 M54.3,131.1 h3.2 M502.1,131.1 h-3.2 M54.3,154.6 h6.3 M502.1,154.6 h-6.3 M54.3,178.1 h3.2 M502.1,178.1 h-3.2 M54.3,201.6 h6.3 M502.1,201.6 h-6.3 M54.3,225.0 h3.2 M502.1,225.0 h-3.2 M54.3,248.5 h6.3 M502.1,248.5 h-6.3 M54.3,272.0 h3.2 M502.1,272.0 h-3.2 M54.3,295.5 h6.3 M502.1,295.5 h-6.3 M54.3,318.9 h3.2 M502.1,318.9 h-3.2 M54.3,342.4 h6.3 M502.1,342.4 h-6.3"/>
</g>
<g fill="none">
<path d="M364.1,37.0 H398.9" stroke="#000000" stroke-width="1.4"/>
<path d="M364.1,50.0 H398.9" stroke="#000000" stroke-width="1.4" stroke-dasharray="1.4 1.6"/>
<path d="M364.1,62.9 H398.9" stroke="#000000" stroke-width="1.4" stroke-dasharray="5.4 4"/>
<path d="M364.1,75.9 H398.9" stroke="#ff0000" stroke-width="1.4" stroke-dasharray="13.8 3.8"/>
<path d="M364.1,88.7 H398.9" stroke="#00ff00" stroke-width="1.4" stroke-dasharray="5.7 1.5 1.4 1.9" stroke-dashoffset="3.3"/>
<path d="M364.1,101.5 H398.9" stroke="#0000ff" stroke-width="1.4" stroke-dasharray="13 1.5 1.3 1.4"/>
<path d="M364.1,114.6 H398.9" stroke="#00ffff" stroke-width="1.4" stroke-dasharray="12.6 4.8 5.5 4.9"/>
<path d="M364.1,127.4 H398.9" stroke="#ff00ff" stroke-width="1.4"/>
<path d="M364.1,140.5 H398.9" stroke="#ff8810" stroke-width="1.4"/>
</g>
<g font-family="Liberation Serif, serif" stroke="#000" stroke-width="0.45" stroke-linejoin="round" text-rendering="geometricPrecision" font-size="13" fill="#000">
<g font-size="13.3" stroke-width="0.6">
<text x="402.6" y="41.2">J</text>
<text x="402.8" y="54.1" textLength="8.2" lengthAdjust="spacingAndGlyphs">H</text>
<text x="402.8" y="67.0" textLength="8.0" lengthAdjust="spacingAndGlyphs">K</text>
<text x="410.9" y="70.0" font-size="8.5" stroke-width="0.7">s</text>
<text x="403" y="79.9" textLength="27.1" lengthAdjust="spacingAndGlyphs">IRAC</text>
<text x="438.1" y="79.9" textLength="19.0" lengthAdjust="spacingAndGlyphs">3.6</text>
<text x="464.1" y="79.9" textLength="21.0" lengthAdjust="spacingAndGlyphs"><tspan font-style="italic">μ</tspan>m</text>
<text x="403" y="92.8" textLength="27.1" lengthAdjust="spacingAndGlyphs">IRAC</text>
<text x="438.1" y="92.8" textLength="19.0" lengthAdjust="spacingAndGlyphs">4.5</text>
<text x="464.1" y="92.8" textLength="21.0" lengthAdjust="spacingAndGlyphs"><tspan font-style="italic">μ</tspan>m</text>
<text x="403" y="105.7" textLength="27.1" lengthAdjust="spacingAndGlyphs">IRAC</text>
<text x="438.1" y="105.7" textLength="19.0" lengthAdjust="spacingAndGlyphs">5.8</text>
<text x="464.1" y="105.7" textLength="21.0" lengthAdjust="spacingAndGlyphs"><tspan font-style="italic">μ</tspan>m</text>
<text x="403" y="118.6" textLength="27.1" lengthAdjust="spacingAndGlyphs">IRAC</text>
<text x="438.1" y="118.6" textLength="19.0" lengthAdjust="spacingAndGlyphs">8.0</text>
<text x="464.1" y="118.6" textLength="21.0" lengthAdjust="spacingAndGlyphs"><tspan font-style="italic">μ</tspan>m</text>
<text x="403" y="131.5" textLength="29.0" lengthAdjust="spacingAndGlyphs">MIPS</text>
<text x="440.1" y="131.5" textLength="13.2" lengthAdjust="spacingAndGlyphs">24</text>
<text x="461.7" y="131.5" textLength="20.5" lengthAdjust="spacingAndGlyphs"><tspan font-style="italic">μ</tspan>m</text>
<text x="403" y="144.4" textLength="29.0" lengthAdjust="spacingAndGlyphs">MIPS</text>
<text x="440.1" y="144.4" textLength="13.2" lengthAdjust="spacingAndGlyphs">70</text>
<text x="461.7" y="144.4" textLength="20.5" lengthAdjust="spacingAndGlyphs"><tspan font-style="italic">μ</tspan>m</text>
</g>
<g font-size="13.3" stroke-width="0.4">
<text x="50.3" y="368.9" textLength="8.0" lengthAdjust="spacingAndGlyphs">0</text>
<text x="111.8" y="368.9" textLength="22.8" lengthAdjust="spacingAndGlyphs">100</text>
<text x="180.1" y="368.9" textLength="24.0" lengthAdjust="spacingAndGlyphs">200</text>
<text x="249.0" y="368.9" textLength="24.0" lengthAdjust="spacingAndGlyphs">300</text>
<text x="317.9" y="368.9" textLength="24.0" lengthAdjust="spacingAndGlyphs">400</text>
<text x="386.8" y="368.9" textLength="24.0" lengthAdjust="spacingAndGlyphs">500</text>
<text x="455.6" y="368.9" textLength="24.0" lengthAdjust="spacingAndGlyphs">600</text>
<text x="39.0" y="65.7" textLength="8.0" lengthAdjust="spacingAndGlyphs">0</text>
<text x="39.0" y="112.6" textLength="8.0" lengthAdjust="spacingAndGlyphs">4</text>
<text x="39.0" y="159.6" textLength="8.0" lengthAdjust="spacingAndGlyphs">8</text>
<text x="32.2" y="206.6" textLength="14.8" lengthAdjust="spacingAndGlyphs">12</text>
<text x="32.2" y="253.5" textLength="14.8" lengthAdjust="spacingAndGlyphs">16</text>
<text x="31.0" y="300.5" textLength="16.0" lengthAdjust="spacingAndGlyphs">20</text>
<text x="31.0" y="347.4" textLength="16.0" lengthAdjust="spacingAndGlyphs">24</text>
</g>
<g font-size="13.3">
<text x="226.3" y="383.6" textLength="42.9" lengthAdjust="spacing">Radius</text>
<text x="277" y="383.6" textLength="54.6" lengthAdjust="spacing">(arcsec)</text>
<g transform="translate(22.3,0) rotate(-90)">
<text x="-302.8" y="0" textLength="50.5" lengthAdjust="spacing">Surface</text>
<text x="-243.8" y="0" textLength="69.8" lengthAdjust="spacing">Brightness</text>
<text x="-167.2" y="0" textLength="95.3" lengthAdjust="spacing">(mag/arcsec²)</text>
</g></g>
</g>
</svg>
</body></html>
